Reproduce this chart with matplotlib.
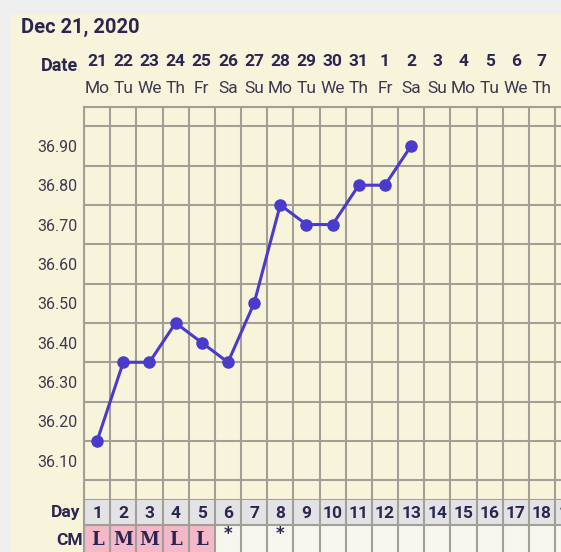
import numpy as np
import matplotlib
matplotlib.use('Agg')
import matplotlib.pyplot as plt
from matplotlib.patches import Rectangle
from matplotlib.transforms import blended_transform_factory

# chart data
days = list(range(1, 20))
dates = ['21', '22', '23', '24', '25', '26', '27', '28', '29', '30', '31',
         '1', '2', '3', '4', '5', '6', '7']
weekdays = ['Mo', 'Tu', 'We', 'Th', 'Fr', 'Sa', 'Su',
            'Mo', 'Tu', 'We', 'Th', 'Fr', 'Sa', 'Su',
            'Mo', 'Tu', 'We', 'Th']
temp_days = [1, 2, 3, 4, 5, 6, 7, 8, 9, 10, 11, 12, 13]
temps = [36.15, 36.35, 36.35, 36.45, 36.40, 36.35, 36.50,
         36.75, 36.70, 36.70, 36.80, 36.80, 36.90]
cm = ['L', 'M', 'M', 'L', 'L', '*', '', '*', '', '', '', '', '', '', '', '', '', '', '']
ytick_vals = [36.10, 36.20, 36.30, 36.40, 36.50, 36.60, 36.70, 36.80, 36.90]

W, H = 561, 552
def fx(px): return px / W
def fy(py): return 1 - py / H

plt.rcParams['font.family'] = ['Roboto', 'DejaVu Sans']
navy = '#2b2650'
gridc = '#a19f97'
cream = '#f8f4dc'

fig = plt.figure(figsize=(5.61, 5.52), dpi=100, facecolor='#efefef')
fig.patches.append(Rectangle((fx(11), 0), 1, fy(14), transform=fig.transFigure,
                             facecolor=cream, edgecolor='none', zorder=-5))

col_w = 26.17
x_right = 0.5 + (W - 84) / col_w

# temperature grid
ax = fig.add_axes([fx(84), fy(500), fx(W - 84), (500 - 106.5) / H])
ax.set_facecolor(cream)
ax.set_xticks([])
ax.set_xticks(np.arange(0.5, 20, 1), minor=True)
ax.set_yticks(ytick_vals)
ax.set_yticklabels([f'{v:.2f}' for v in ytick_vals])
ax.set_yticks(np.arange(36.0, 37.01, 0.05), minor=True)
ax.set_xlim(0.5, x_right)
ax.set_ylim(36.0, 37.0)
ax.grid(which='minor', color=gridc, lw=1.5)
ax.tick_params(which='both', length=0)
ax.tick_params(axis='y', labelsize=11.5, labelcolor='#3c3a52', pad=4.8)
for s in ax.spines.values():
    s.set_visible(False)
ax.spines['left'].set_visible(True)
ax.spines['top'].set_visible(True)
ax.spines['left'].set_color(gridc)
ax.spines['top'].set_color(gridc)
ax.spines['left'].set_linewidth(1.5)
ax.spines['top'].set_linewidth(1.5)

ax.plot(temp_days, temps, color='#4a3bcc', lw=2.2, marker='o', ms=8, zorder=3)

# header
trans = blended_transform_factory(ax.transData, fig.transFigure)
for d, ds, wd in zip(days, dates, weekdays):
    ax.text(d, fy(65.7), ds, transform=trans, ha='center', va='baseline',
            fontsize=12.5, fontweight='bold', color=navy, clip_on=False)
    ax.text(d, fy(92.7), wd, transform=trans, ha='center', va='baseline',
            fontsize=12.5, color='#3a3850', clip_on=False)

fig.text(fx(21), fy(33.3), 'Dec 21, 2020', fontsize=14.5, fontweight='bold',
         color=navy, va='baseline')
fig.text(fx(77.7), fy(71), 'Date', ha='right', va='baseline', fontsize=13,
         fontweight='bold', color=navy)

# Day / CM rows
ax2 = fig.add_axes([fx(84), 0, fx(W - 84), 52 / H])
ax2.set_facecolor(cream)
ax2.bar(days, 1, width=1, bottom=0, color='#e3e3e6', zorder=1)
cm_colors = ['#f4b8c8' if c in ('L', 'M') else '#f7f6ee' for c in cm]
ax2.bar(days, 1.2, width=1, bottom=1, color=cm_colors, zorder=1)
ax2.set_xticks([])
ax2.set_xticks(np.arange(0.5, 20, 1), minor=True)
ax2.set_yticks([])
ax2.set_xlim(0.5, x_right)
ax2.set_ylim(52 / 25, 0)
ax2.grid(which='minor', axis='x', color=gridc, lw=1.5, zorder=2)
ax2.set_axisbelow(False)
ax2.axhline(1, color=gridc, lw=1.5, zorder=2)
ax2.tick_params(which='both', length=0)
for s in ax2.spines.values():
    s.set_visible(False)
ax2.spines['left'].set_visible(True)
ax2.spines['left'].set_color(gridc)
ax2.spines['left'].set_linewidth(1.5)

for d, c in zip(days, cm):
    ax2.text(d, 0.73, str(d), ha='center', va='baseline', fontsize=12.5,
             fontweight='bold', color=navy, zorder=3)
    if c == '*':
        ax2.text(d, 1.02, c, ha='center', va='top', fontsize=12,
                 fontweight='bold', color=navy, family='DejaVu Sans', zorder=3)
    elif c:
        ax2.text(d, 1.8, c, ha='center', va='baseline', fontsize=13,
                 fontweight='bold', color=navy, family='DejaVu Serif', zorder=3)

fig.text(fx(80.7), fy(517), 'Day', ha='right', va='baseline', fontsize=12.5,
         fontweight='bold', color=navy)
fig.text(fx(83), fy(545), 'CM', ha='right', va='baseline', fontsize=12.5,
         fontweight='bold', color=navy)

fig.savefig('out.png', dpi=100, facecolor=fig.get_facecolor())
